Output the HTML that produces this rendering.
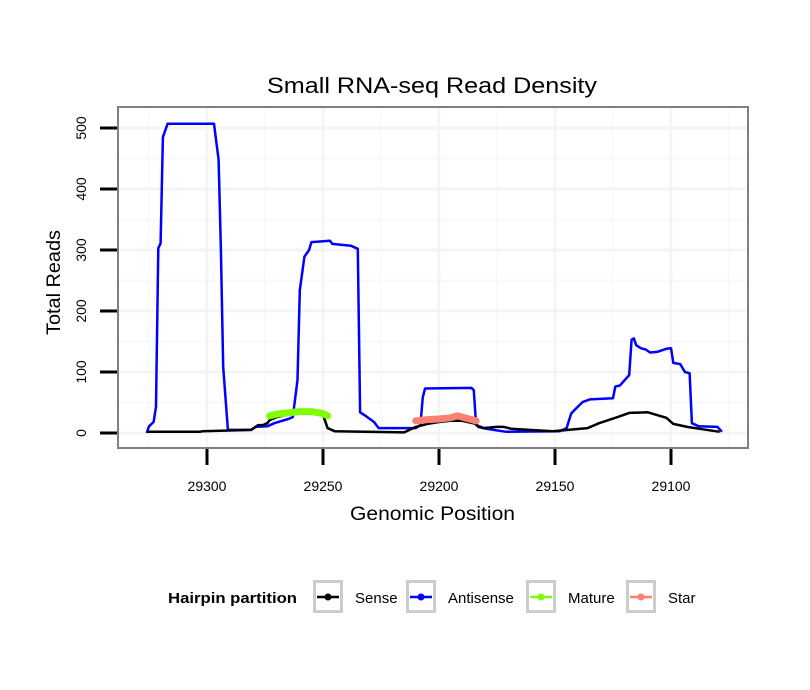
<!DOCTYPE html>
<html><head><meta charset="utf-8"><style>
body{margin:0;background:#fff;}
svg{display:block;font-family:"Liberation Sans",sans-serif;}
</style></head><body>
<svg id="chart" width="810" height="690" viewBox="0 0 810 690">
<text x="267" y="93" font-size="22" textLength="330" lengthAdjust="spacingAndGlyphs">Small RNA-seq Read Density</text>
<rect x="118" y="107" width="630" height="341" fill="#fff"/>
<g id="grid"></g>
<g id="series"></g>
<rect x="118" y="107" width="630" height="341" fill="none" stroke="#808080" stroke-width="2"/>
<g id="axes"></g>
<text x="350" y="520" font-size="19" textLength="165" lengthAdjust="spacingAndGlyphs">Genomic Position</text>
<text transform="translate(60,335) rotate(-90)" font-size="19" textLength="105" lengthAdjust="spacingAndGlyphs">Total Reads</text>
<g>
<text x="168" y="603" font-size="15" font-weight="bold" textLength="129" lengthAdjust="spacingAndGlyphs">Hairpin partition</text>
<g id="legend-keys"></g>
</g>
</svg>
<script>
const xTicks=[29300,29250,29200,29150,29100];
const yTicks=[0,100,200,300,400,500];
const senseX=[29326,29303,29302,29281,29278,29276,29274,29273,29270,29265,29260,29255,29250,29248,29245,29232,29215,29210,29205,29200,29195,29190,29184,29183,29181,29175,29172,29169,29151,29136,29131,29123,29118,29110,29102,29099,29093,29088,29079];
const senseY=[2,2,3,5,13,13,16,21,26,30,32,32,30,8,3,2,1,10,15,18,20,20,15,10,8,10,10,7,3,8,16,26,33,34,25,15,10,7,2];
const antiX=[29326,29325,29323,29322,29321,29320,29319,29317,29297,29295,29294,29293,29291,29281,29279,29274,29271,29265,29263,29261,29260,29258,29256,29255,29247,29246,29238,29235,29234,29232,29228,29226,29210,29208,29207,29206,29186,29185,29184,29180,29171,29148,29145,29143,29141,29138,29135,29125,29124,29122,29118,29117,29116,29115,29113,29111,29109,29106,29102,29100,29099,29096,29094,29092,29091,29088,29080,29078];
const antiY=[0,11,18,43,303,311,485,507,507,448,300,108,5,5,10,11,16,23,26,87,234,289,300,313,315,310,307,302,34,29,18,8,8,13,59,73,74,70,13,7,2,3,8,32,40,51,55,57,76,78,95,153,155,144,139,137,132,133,138,139,115,113,100,98,16,11,10,2];
const matureX=[29273,29270,29265,29260,29255,29250,29248];
const matureY=[28,31,33,35,35,32,28];
const starX=[29210,29205,29200,29195,29192,29188,29184];
const starY=[20,22,23,25,28,24,20];
const NS='http://www.w3.org/2000/svg';
const sx=p=>207+(29300-p)*2.32;
const sy=v=>433-v*0.61;
function mk(tag,attrs,parent){const e=document.createElementNS(NS,tag);for(const k in attrs)e.setAttribute(k,attrs[k]);parent.appendChild(e);return e;}
const grid=document.getElementById('grid'),axes=document.getElementById('axes'),series=document.getElementById('series');
const minorX=[];for(let i=0;i<xTicks.length;i++){minorX.push(xTicks[i]+25);}minorX.push(xTicks[xTicks.length-1]-25);
minorX.forEach(p=>{const l=mk('line',{x1:sx(p),x2:sx(p),y1:108,y2:447,stroke:'#f8f8f8','stroke-width':1.5},grid);

});
const minorY=[50,150,250,350,450];
minorY.forEach(v=>{const l=mk('line',{x1:119,x2:747,y1:sy(v),y2:sy(v),stroke:'#f8f8f8','stroke-width':1.5},grid);

});
xTicks.forEach(p=>{const l=mk('line',{x1:sx(p),x2:sx(p),y1:108,y2:447,stroke:'#f4f4f4','stroke-width':3},grid);


const t=mk('line',{x1:sx(p),x2:sx(p),y1:449,y2:465,stroke:'#000','stroke-width':3},axes);


const tx=mk('text',{x:sx(p),y:491,'font-size':14,'text-anchor':'middle'},axes);tx.textContent=p;

});
yTicks.forEach(v=>{const l=mk('line',{x1:119,x2:747,y1:sy(v),y2:sy(v),stroke:'#f4f4f4','stroke-width':3},grid);


const t=mk('line',{x1:100,x2:117,y1:sy(v),y2:sy(v),stroke:'#000','stroke-width':3},axes);


const tx=mk('text',{transform:`translate(86,${sy(v)}) rotate(-90)`,'font-size':14,'text-anchor':'middle'},axes);tx.textContent=v;

});
function path(xs,ys){return xs.map((p,i)=>(i?'L':'M')+sx(p).toFixed(1)+','+sy(ys[i]).toFixed(1)).join('');}
const s1=mk('path',{d:path(antiX,antiY),fill:'none',stroke:'#0000ff','stroke-width':2.5,'stroke-linejoin':'round'},series);


const s2=mk('path',{d:path(senseX,senseY),fill:'none',stroke:'#000','stroke-width':2.5,'stroke-linejoin':'round'},series);


const s3=mk('path',{d:path(matureX,matureY),fill:'none',stroke:'#7fff00','stroke-width':7,'stroke-linecap':'round','stroke-linejoin':'round'},series);


const s4=mk('path',{d:path(starX,starY),fill:'none',stroke:'#fa8072','stroke-width':7,'stroke-linecap':'round','stroke-linejoin':'round'},series);


const legNames=['Sense','Antisense','Mature','Star'];
const legColors=['#000','#0000ff','#7fff00','#fa8072'];
const legBoxX=[313,406,526,626];
const lg=document.getElementById('legend-keys');
legNames.forEach((n,i)=>{const bx=legBoxX[i];
const g=mk('g',{},lg);


mk('rect',{x:bx+1.5,y:581.5,width:27,height:30,fill:'#fff',stroke:'#cccccc','stroke-width':3},g);
mk('line',{x1:bx+4,x2:bx+26,y1:597,y2:597,stroke:legColors[i],'stroke-width':2.5},g);
mk('circle',{cx:bx+15,cy:597,r:3.5,fill:legColors[i]},g);
const t=mk('text',{x:bx+42,y:603,'font-size':15},g);t.textContent=n;});
</script>
</body></html>
